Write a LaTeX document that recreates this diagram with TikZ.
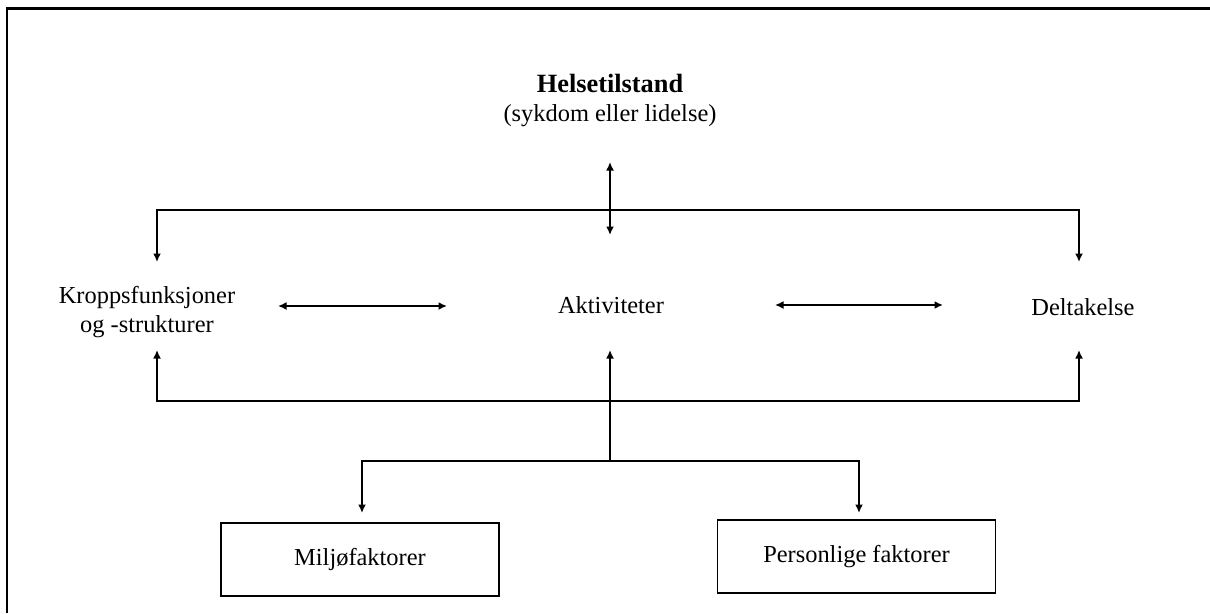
\documentclass[tikz,border=0pt]{standalone}
\usepackage{fontspec}
\setmainfont{Liberation Serif}
\usetikzlibrary{arrows.meta}
\begin{document}
\begin{tikzpicture}[x=0.02cm,y=-0.02cm,every node/.style={font=\fontsize{13.9}{16.6}\selectfont}]
    \tikzset{
      link/.style={line width=1.2pt},
      arr/.style={link,-{Latex[length=1.7mm,width=1.6mm]}},
      dblarr/.style={link,{Latex[length=1.7mm,width=1.6mm]}-{Latex[length=1.7mm,width=1.6mm]}},
      factor/.style={draw,line width=0.8pt,minimum width=5.56cm,minimum height=1.46cm,inner sep=0pt}
    }
    \useasboundingbox (0,0) rectangle (1210,613);
    \draw[line width=1.7pt] (1210,8.5) -- (7,8.5) -- (7,613);
    % health condition
    \node[font=\fontsize{15}{18}\selectfont\bfseries] (helse) at (610,83) {Helsetilstand};
    \node (helsesub) at (610,116) {(sykdom eller lidelse)};
    % the three components
    \node[align=center] (kropp) at (147,312) {Kroppsfunksjoner\\og -strukturer};
    \node (akt) at (611,305) {Aktiviteter};
    \node (delta) at (1083,307) {Deltakelse};
    % context factors
    \node[factor] (milj) at (360,559.5) {Miljøfaktorer};
    \node[factor] (pers) at (856.5,556.5) {Personlige faktorer};
    % connector points
    \coordinate (ht) at (610,162);
    \coordinate (hb) at (610,235);
    \coordinate (tl) at (157,210);
    \coordinate (tr) at (1079,210);
    \coordinate (kt) at (157,262);
    \coordinate (dt) at (1079,262);
    \coordinate (bl) at (157,401);
    \coordinate (br) at (1079,401);
    \coordinate (kb) at (157,350);
    \coordinate (db) at (1079,350);
    \coordinate (ab) at (610,350);
    \coordinate (fc) at (610,461);
    \coordinate (fl) at (362,461);
    \coordinate (fr) at (859,461);
    \coordinate (mt) at (362,513);
    \coordinate (pt) at (859,513);
    \coordinate (ka) at (278,306);
    \coordinate (ak) at (447,306);
    \coordinate (ad) at (775,305);
    \coordinate (da) at (943,305);
    % upper bar
    \draw[dblarr] (ht) -- (hb);
    \draw[arr] (tr) -- (tl) -- (kt);
    \draw[arr] (tl) -- (tr) -- (dt);
    % side arrows
    \draw[dblarr] (ka) -- (ak);
    \draw[dblarr] (ad) -- (da);
    % lower bar
    \draw[arr] (br) -- (bl) -- (kb);
    \draw[arr] (bl) -- (br) -- (db);
    \draw[arr] (fc) -- (ab);
    \draw[arr] (fr) -- (fl) -- (mt);
    \draw[arr] (fl) -- (fr) -- (pt);
\end{tikzpicture}
\end{document}
